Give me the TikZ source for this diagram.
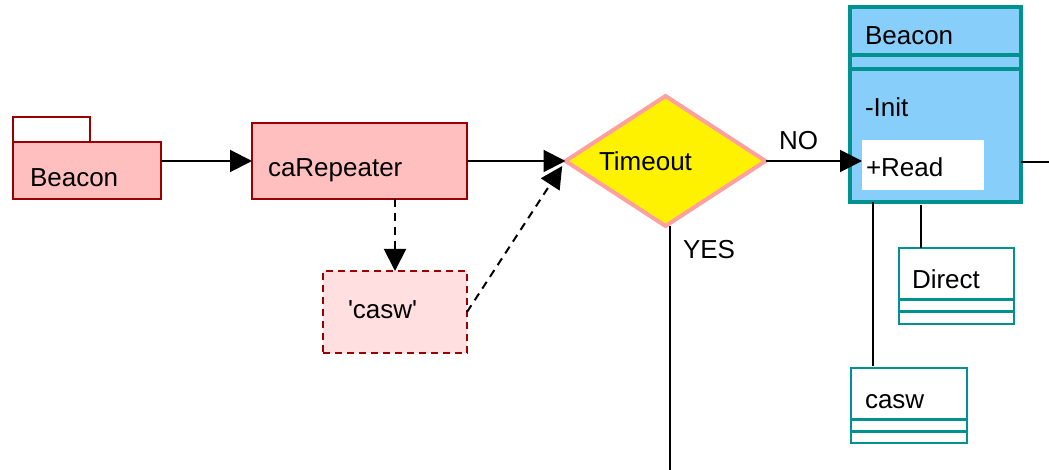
\documentclass[tikz,border=0pt]{standalone}
\usepackage{fontspec}
\setmainfont{Liberation Sans}
\usetikzlibrary{shapes.geometric, arrows.meta, calc}
\definecolor{pkgfill}{RGB}{255,191,191}
\definecolor{pkgline}{RGB}{153,0,0}
\definecolor{objfill}{RGB}{255,223,223}
\definecolor{decline}{RGB}{255,160,160}
\definecolor{clsfill}{RGB}{136,206,250}
\definecolor{clsline}{RGB}{0,145,145}
\begin{document}
\begin{tikzpicture}[
  x=0.5pt, y=-0.5pt,
  every node/.style={inner sep=0pt, outer sep=0pt, font=\fontsize{13}{15}\selectfont},
  box/.style={rectangle, anchor=north west},
  pkgbox/.style={box, draw=pkgline, fill=pkgfill, line width=1pt},
  objbox/.style={box, draw=pkgline, fill=objfill, line width=1pt, dash pattern=on 3.5pt off 2.5pt},
  clsbox/.style={box, draw=clsline, fill=white, line width=1pt},
  txt/.style={anchor=base west},
  arr/.style={line width=1pt, -{Triangle[length=11pt, width=11pt]}},
  dasharr/.style={arr, dash pattern=on 4pt off 3pt},
  conn/.style={line width=1pt}
]
\useasboundingbox (0,0) rectangle (1049,470);
\node[pkgbox, fill=white, minimum width=38.5pt, minimum height=12.5pt] (pkgTab) at (13,117) {};
\node[pkgbox, minimum width=74pt, minimum height=28.5pt] (pkg) at (13,142) {};
\node[txt] (pkgText) at (30,187) {Beacon};
\node[pkgbox, minimum width=107.5pt, minimum height=38pt] (rep) at (252,123) {};
\node[txt] (repText) at (268,177) {caRepeater};
\node[objbox, minimum width=72pt, minimum height=41pt] (cas) at (323,271) {};
\node[txt] (casText) at (348,318) {\textquotesingle casw\textquotesingle};
\node[diamond, draw=decline, fill=yellow, line width=2pt, minimum width=100pt, minimum height=65pt] (dec) at (665.5,161) {};
\node[txt] (decText) at (599,171) {Timeout};
\node[box, draw=clsline, fill=clsfill, line width=2pt, minimum width=85.5pt, minimum height=97.5pt] (cls) at (850,7) {};
\draw[clsline, line width=2pt] ($(cls.north west)+(0,48)$) -- ($(cls.north east)+(0,48)$);
\draw[clsline, line width=2pt] ($(cls.north west)+(0,62)$) -- ($(cls.north east)+(0,62)$);
\node[txt] (clsText) at (865,45) {Beacon};
\node[txt] (initText) at (865,117) {-Init};
\node[box, fill=white, minimum width=61pt, minimum height=25pt] (readBox) at (862,140) {};
\node[txt] (readText) at (866,177) {+Read};
\node[clsbox, minimum width=57.5pt, minimum height=38pt] (dir) at (899,248) {};
\draw[clsline, line width=1.5pt] ($(dir.north west)+(0,51)$) -- ($(dir.north east)+(0,51)$);
\draw[clsline, line width=1.5pt] ($(dir.north west)+(0,63)$) -- ($(dir.north east)+(0,63)$);
\node[txt] (dirText) at (912,289) {Direct};
\node[clsbox, minimum width=58pt, minimum height=37.5pt] (csw) at (851,368) {};
\draw[clsline, line width=1.5pt] ($(csw.north west)+(0,51)$) -- ($(csw.north east)+(0,51)$);
\draw[clsline, line width=1.5pt] ($(csw.north west)+(0,63)$) -- ($(csw.north east)+(0,63)$);
\node[txt] (cswText) at (865,408) {casw};
\coordinate (yesEnd) at (670,472);
\coordinate (rightEnd) at (1050,162);
\coordinate (cswTop) at ($(csw.north west)+(22,-2)$);
\coordinate (dirTop) at ($(dir.north west)+(22,0)$);
\draw[arr] (pkg.east |- rep.west) -- (rep.west);
\draw[arr] (rep.east) -- (rep.east -| dec.west);
\draw[dasharr] (rep.south -| cas.north) -- (cas.north);
\draw[dasharr, shorten >=3pt] (cas.east) -- (dec.west);
\draw[arr] (dec.east) -- (dec.east -| readBox.west);
\node[txt] (noText) at (779,150) {NO};
\draw[conn] (dec.south -| yesEnd) -- (yesEnd);
\node[txt] (yesText) at (683,258) {YES};
\draw[conn] (cls.east |- rightEnd) -- (rightEnd);
\draw[conn] (cls.south -| cswTop) -- (cswTop);
\draw[conn] ($(cls.south -| dirTop)+(0,3)$) -- (dirTop);
\end{tikzpicture}
\end{document}
